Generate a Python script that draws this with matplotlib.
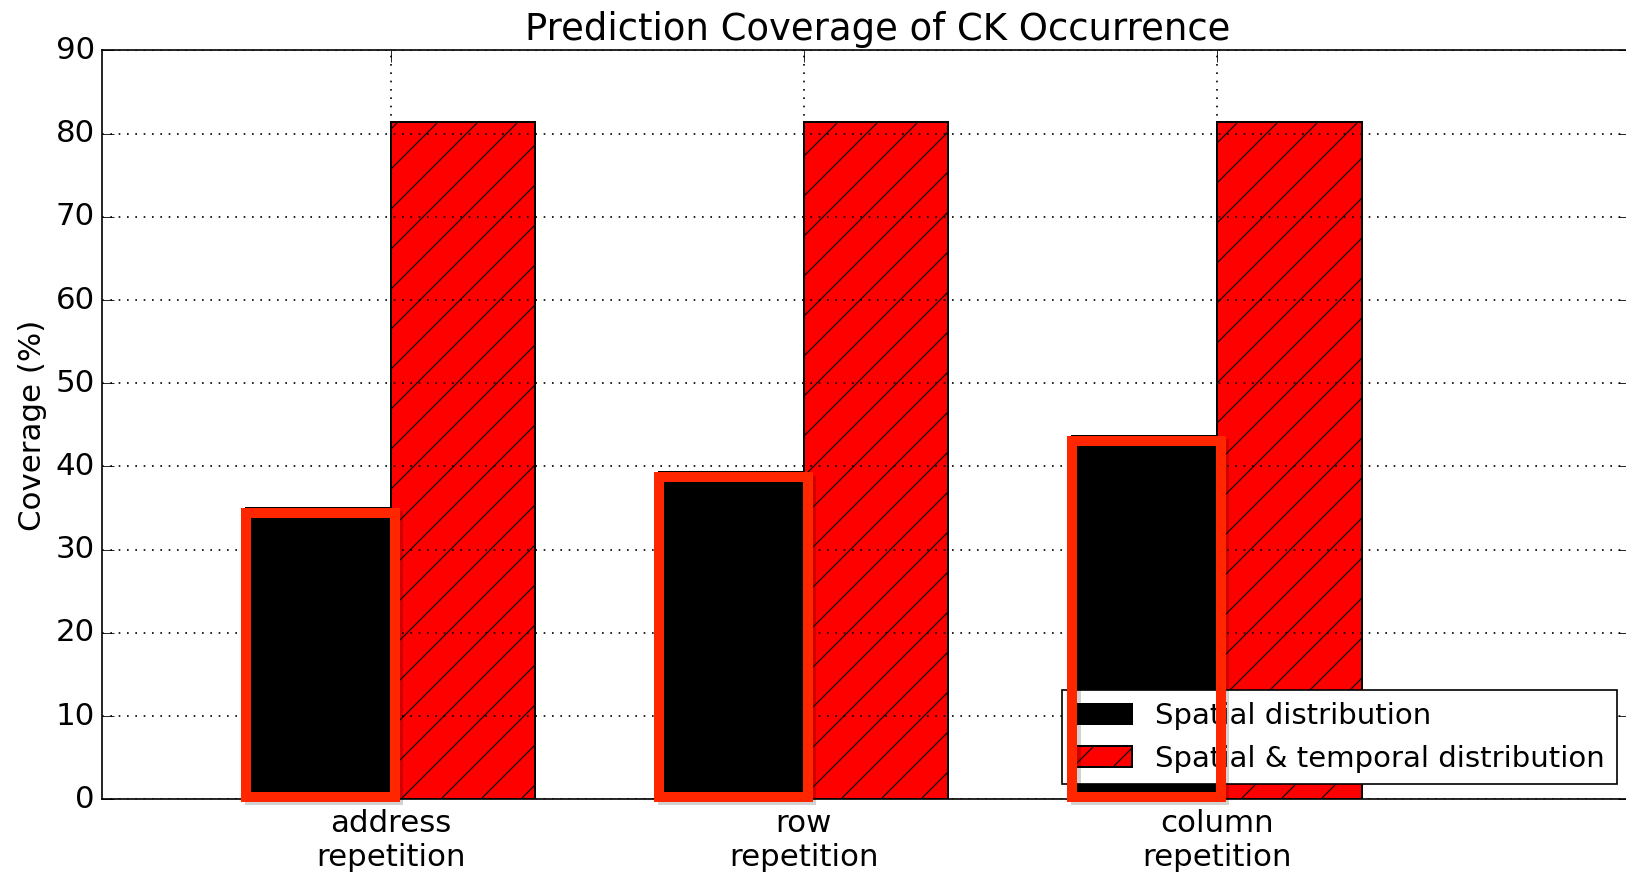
import matplotlib
matplotlib.use('Agg')
import matplotlib.pyplot as plt
import numpy as np
from matplotlib.patches import Rectangle
from matplotlib import patheffects

# coverage values (%) per repetition type
categories = ['address\nrepetition', 'row\nrepetition', 'column\nrepetition']
spatial = [35.0, 39.3, 43.7]
spatial_temporal = [81.4, 81.4, 81.4]

plt.style.use('classic')
plt.rcParams['font.size'] = 18.5
plt.rcParams['hatch.linewidth'] = 0.7

fig = plt.figure(figsize=(13.55, 7.275), dpi=120, facecolor='white')
ax = fig.add_axes([0.0625, 0.0844, 0.94, 0.8578])

ind = np.arange(len(categories))
w = 0.35
b1 = ax.bar(ind - w / 2, spatial, w, color='black', edgecolor='black', lw=1.2,
            label='Spatial distribution')
b2 = ax.bar(ind + w / 2, spatial_temporal, w, color='red', edgecolor='black',
            hatch='/', lw=1.2, label='Spatial & temporal distribution')

ax.set_xlim(-0.7, 3.0)
ax.set_ylim(0, 90)
ax.set_xticks(ind)
ax.set_xticklabels(categories)
ax.set_ylabel('Coverage (%)')
ax.set_title('Prediction Coverage of CK Occurrence', pad=6.5, x=0.508)
ax.grid(True, color='black', linestyle=(0, (1, 4)), lw=1)
ax.tick_params(length=7)
ax.tick_params(axis='x', pad=6)

leg = ax.legend(loc='lower right', bbox_to_anchor=(0.9943, 0.1016),
                bbox_transform=fig.transFigure, borderaxespad=0, fontsize=17.5)

# highlight boxes around the spatial-only bars
for r in b1:
    box = Rectangle((r.get_x(), 0.3), r.get_width() + 0.01, r.get_height() - 0.9,
                    fill=False, edgecolor='#ff2600', lw=6, zorder=10, clip_on=False,
                    path_effects=[patheffects.SimpleLineShadow(offset=(2, -2), shadow_color='k',
                                                               alpha=0.18),
                                  patheffects.Normal()])
    ax.add_patch(box)

fig.savefig('out.png', dpi=120, facecolor='white')
